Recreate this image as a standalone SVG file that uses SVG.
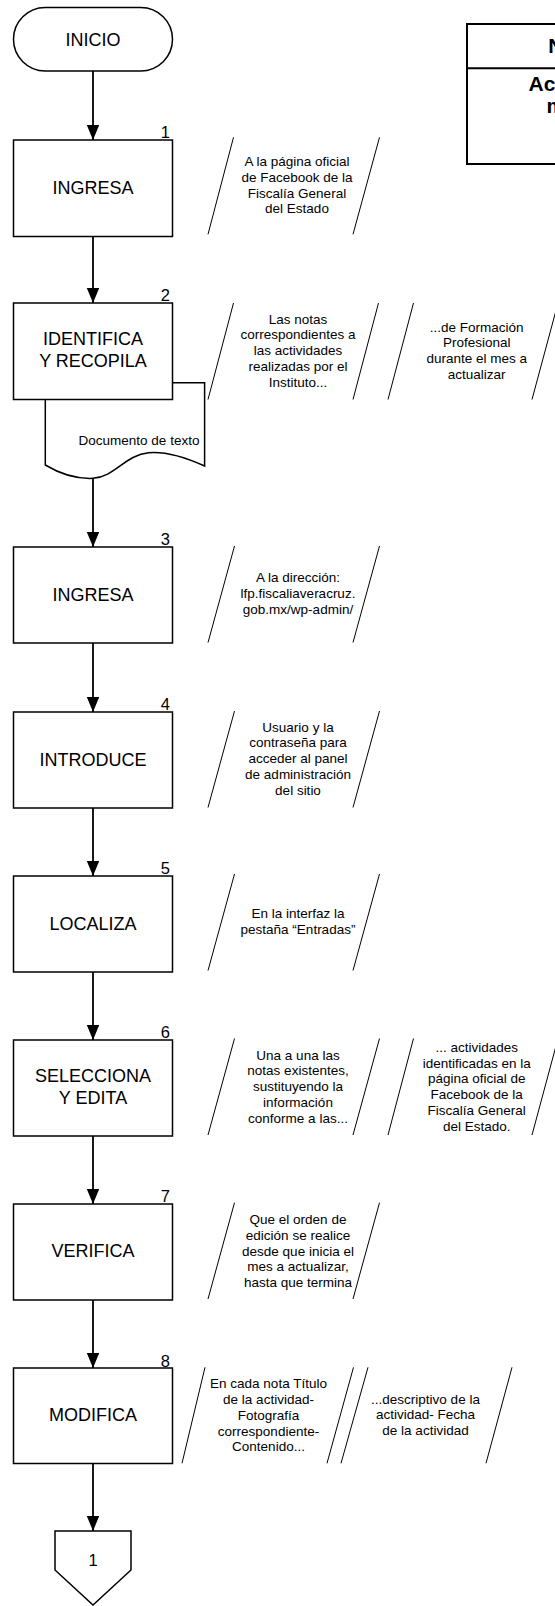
<svg xmlns="http://www.w3.org/2000/svg" width="555" height="1606" viewBox="0 0 555 1606">
<style>
.box{fill:#fff;stroke:#000;stroke-width:1.5}
.conn{stroke:#000;stroke-width:1.8;fill:none}
.sl{stroke:#000;stroke-width:1;fill:none}
.bt{font-family:"Liberation Sans",Arial,sans-serif;font-size:18px;text-anchor:middle;fill:#000}
.num{font-family:"Liberation Sans",Arial,sans-serif;font-size:16.5px;text-anchor:end;fill:#000}
.at{font-family:"Liberation Sans",Arial,sans-serif;font-size:13.5px;text-anchor:middle;fill:#000}
.tb{font-family:"Liberation Sans",Arial,sans-serif;font-size:21px;font-weight:bold;fill:#000}
</style>
<defs>
<marker id="ah" markerUnits="userSpaceOnUse" markerWidth="16" markerHeight="13" refX="15" refY="6.2" orient="auto">
<path d="M0,0 L15,6.2 L0,12.4 z" fill="#000"/>
</marker>
</defs>
<rect width="555" height="1606" fill="#fff"/>

<g id="connectors">
<line class="conn" x1="93" y1="71" x2="93" y2="140" marker-end="url(#ah)"/>
<line class="conn" x1="93" y1="236.5" x2="93" y2="303" marker-end="url(#ah)"/>
<line class="conn" x1="93" y1="478" x2="93" y2="547" marker-end="url(#ah)"/>
<line class="conn" x1="93" y1="643" x2="93" y2="712" marker-end="url(#ah)"/>
<line class="conn" x1="93" y1="808" x2="93" y2="876" marker-end="url(#ah)"/>
<line class="conn" x1="93" y1="972" x2="93" y2="1040" marker-end="url(#ah)"/>
<line class="conn" x1="93" y1="1136" x2="93" y2="1204" marker-end="url(#ah)"/>
<line class="conn" x1="93" y1="1300" x2="93" y2="1368" marker-end="url(#ah)"/>
<line class="conn" x1="93" y1="1464" x2="93" y2="1531" marker-end="url(#ah)"/>
</g>

<g id="inicio">
<rect class="box" x="13.5" y="7.5" width="159" height="63.5" rx="31.75" ry="31.75"/>
<text class="bt" x="93" y="45.5">INICIO</text>
</g>

<g id="tabla">
<rect x="467" y="24" width="120" height="140" fill="#fff" stroke="#000" stroke-width="2"/>
<line x1="467" y1="68.3" x2="560" y2="68.3" stroke="#000" stroke-width="2"/>
<text class="tb" x="548.3" y="53">N</text>
<text class="tb" x="528.5" y="90.7">Ac</text>
<text class="tb" x="546.5" y="113">m</text>
</g>

<g id="paso1">
<rect class="box" x="13.5" y="140" width="159" height="96.5"/>
<text class="num" x="170" y="138">1</text>
<text class="bt" x="93" y="193.5">INGRESA</text>
</g>
<g id="nota1">
<line class="sl" x1="233.5" y1="137.3" x2="208" y2="234.3"/>
<line class="sl" x1="379.5" y1="137.3" x2="353" y2="234.3"/>
<text class="at" x="297" y="166">A la página oficial</text>
<text class="at" x="297" y="181.8">de Facebook de la</text>
<text class="at" x="297" y="197.6">Fiscalía General</text>
<text class="at" x="297" y="213.4">del Estado</text>
</g>

<g id="documento">
<path class="box" d="M45.3,382.7 H204.6 V466 C187,458 168,451 148.7,452.7 C125,455 115,477 93,478.3 C78,479 62,475 45.3,465 Z"/>
<text class="at" x="139" y="445">Documento de texto</text>
</g>

<g id="paso2">
<rect class="box" x="13.5" y="303" width="159" height="96.5"/>
<text class="num" x="170" y="301">2</text>
<text class="bt" x="93" y="345">IDENTIFICA</text>
<text class="bt" x="93" y="367.3">Y RECOPILA</text>
</g>
<g id="nota2a">
<line class="sl" x1="233.5" y1="303" x2="208" y2="399.5"/>
<line class="sl" x1="378.5" y1="303" x2="353" y2="399.5"/>
<text class="at" x="298" y="323.6">Las notas</text>
<text class="at" x="298" y="339.4">correspondientes a</text>
<text class="at" x="298" y="355.2">las actividades</text>
<text class="at" x="298" y="371">realizadas por el</text>
<text class="at" x="298" y="386.8">Instituto...</text>
</g>
<g id="nota2b">
<line class="sl" x1="413.5" y1="303" x2="388" y2="399.5"/>
<line class="sl" x1="558" y1="303" x2="532" y2="399.5"/>
<text class="at" x="476.7" y="331.5">...de Formación</text>
<text class="at" x="476.7" y="347.3">Profesional</text>
<text class="at" x="476.7" y="363.1">durante el mes a</text>
<text class="at" x="476.7" y="378.9">actualizar</text>
</g>

<g id="paso3">
<rect class="box" x="13.5" y="547" width="159" height="96"/>
<text class="num" x="170" y="545">3</text>
<text class="bt" x="93" y="600.5">INGRESA</text>
</g>
<g id="nota3">
<line class="sl" x1="234.5" y1="546" x2="208" y2="642.5"/>
<line class="sl" x1="379.5" y1="546" x2="353" y2="642.5"/>
<text class="at" x="298" y="582.4">A la dirección:</text>
<text class="at" x="298" y="598.2">lfp.fiscaliaveracruz.</text>
<text class="at" x="298" y="614">gob.mx/wp-admin/</text>
</g>

<g id="paso4">
<rect class="box" x="13.5" y="712" width="159" height="96"/>
<text class="num" x="170" y="710">4</text>
<text class="bt" x="93" y="765.5">INTRODUCE</text>
</g>
<g id="nota4">
<line class="sl" x1="234.5" y1="711" x2="208" y2="807.5"/>
<line class="sl" x1="379.5" y1="711" x2="353" y2="807.5"/>
<text class="at" x="298" y="731.6">Usuario y la</text>
<text class="at" x="298" y="747.4">contraseña para</text>
<text class="at" x="298" y="763.2">acceder al panel</text>
<text class="at" x="298" y="779">de administración</text>
<text class="at" x="298" y="794.8">del sitio</text>
</g>

<g id="paso5">
<rect class="box" x="13.5" y="876" width="159" height="96"/>
<text class="num" x="170" y="874">5</text>
<text class="bt" x="93" y="929.5">LOCALIZA</text>
</g>
<g id="nota5">
<line class="sl" x1="234.5" y1="874" x2="208" y2="970.5"/>
<line class="sl" x1="379.5" y1="874" x2="353" y2="970.5"/>
<text class="at" x="298" y="918.4">En la interfaz la</text>
<text class="at" x="298" y="934.2">pestaña “Entradas”</text>
</g>

<g id="paso6">
<rect class="box" x="13.5" y="1040" width="159" height="96"/>
<text class="num" x="170" y="1038">6</text>
<text class="bt" x="93" y="1081.7">SELECCIONA</text>
<text class="bt" x="93" y="1104">Y EDITA</text>
</g>
<g id="nota6a">
<line class="sl" x1="234.5" y1="1038.5" x2="208" y2="1135"/>
<line class="sl" x1="379.5" y1="1038.5" x2="353" y2="1135"/>
<text class="at" x="298" y="1059.6">Una a una las</text>
<text class="at" x="298" y="1075.4">notas existentes,</text>
<text class="at" x="298" y="1091.2">sustituyendo la</text>
<text class="at" x="298" y="1107">información</text>
<text class="at" x="298" y="1122.8">conforme a las...</text>
</g>
<g id="nota6b">
<line class="sl" x1="413.5" y1="1038.5" x2="388" y2="1135"/>
<line class="sl" x1="558" y1="1038.5" x2="532" y2="1135"/>
<text class="at" x="476.7" y="1051.7">... actividades</text>
<text class="at" x="476.7" y="1067.5">identificadas en la</text>
<text class="at" x="476.7" y="1083.3">página oficial de</text>
<text class="at" x="476.7" y="1099.1">Facebook de la</text>
<text class="at" x="476.7" y="1114.9">Fiscalía General</text>
<text class="at" x="476.7" y="1130.7">del Estado.</text>
</g>

<g id="paso7">
<rect class="box" x="13.5" y="1204" width="159" height="96"/>
<text class="num" x="170" y="1202">7</text>
<text class="bt" x="93" y="1257">VERIFICA</text>
</g>
<g id="nota7">
<line class="sl" x1="234.5" y1="1202.7" x2="208" y2="1299"/>
<line class="sl" x1="379.5" y1="1202.7" x2="353" y2="1299"/>
<text class="at" x="298" y="1223.9">Que el orden de</text>
<text class="at" x="298" y="1239.7">edición se realice</text>
<text class="at" x="298" y="1255.5">desde que inicia el</text>
<text class="at" x="298" y="1271.3">mes a actualizar,</text>
<text class="at" x="298" y="1287.1">hasta que termina</text>
</g>

<g id="paso8">
<rect class="box" x="13.5" y="1368" width="159" height="95.5"/>
<text class="num" x="170" y="1366.5">8</text>
<text class="bt" x="93" y="1421">MODIFICA</text>
</g>
<g id="nota8a">
<line class="sl" x1="205" y1="1367.3" x2="182" y2="1463.3"/>
<line class="sl" x1="353.5" y1="1367.3" x2="327" y2="1463.3"/>
<text class="at" x="268.5" y="1388.2">En cada nota Título</text>
<text class="at" x="268.5" y="1404">de la actividad-</text>
<text class="at" x="268.5" y="1419.8">Fotografía</text>
<text class="at" x="268.5" y="1435.6">correspondiente-</text>
<text class="at" x="268.5" y="1451.4">Contenido...</text>
</g>
<g id="nota8b">
<line class="sl" x1="368" y1="1367.3" x2="341" y2="1463.3"/>
<line class="sl" x1="512" y1="1367.3" x2="486" y2="1463.3"/>
<text class="at" x="425.5" y="1403.6">...descriptivo de la</text>
<text class="at" x="425.5" y="1419.4">actividad- Fecha</text>
<text class="at" x="425.5" y="1435.2">de la actividad</text>
</g>

<g id="conector">
<polygon class="box" points="55,1531 131,1531 131,1570 93,1605 55,1570"/>
<text class="num" style="text-anchor:middle" x="93" y="1566">1</text>
</g>
</svg>
